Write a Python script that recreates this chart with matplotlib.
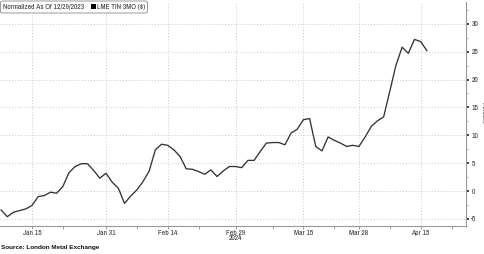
import matplotlib
matplotlib.use("Agg")
import matplotlib.pyplot as plt
import matplotlib.transforms as mtransforms
from matplotlib.patches import FancyBboxPatch, Rectangle
import pandas as pd

# ---- data ----
holidays = ["2024-03-29", "2024-04-01"]
dates = [d for d in pd.bdate_range("2024-01-08", "2024-04-16") if d.strftime("%Y-%m-%d") not in holidays]
values = [-3.4, -4.6, -3.8, -3.5, -3.2, -2.6, -1.0, -0.8, -0.2, -0.4,
          0.8, 3.3, 4.4, 4.9, 4.9, 3.7, 2.3, 3.2, 1.6, 0.5,
          -2.2, -0.9, 0.2, 1.7, 3.6, 7.4, 8.4, 8.2, 7.4, 6.2,
          4.0, 3.9, 3.5, 3.0, 3.8, 2.6, 3.6, 4.4, 4.4, 4.2,
          5.5, 5.5, 7.1, 8.6, 8.7, 8.7, 8.3, 10.4, 11.1, 12.8,
          13.0, 8.0, 7.2, 9.7, 9.1, 8.6, 8.0, 8.2, 8.0, 9.7,
          11.6, 12.6, 13.3, 17.9, 22.6, 25.8, 24.7, 27.2, 26.8, 25.2]
major_dates = ["2024-01-15", "2024-01-31", "2024-02-14", "2024-02-29",
               "2024-03-15", "2024-03-28", "2024-04-15"]
major_labels = ["Jan 15", "Jan 31", "Feb 14", "Feb 29", "Mar 15", "Mar 28", "Apr 15"]
minor_dates = ["2024-01-22", "2024-02-07", "2024-02-21", "2024-03-08",
               "2024-03-22", "2024-04-08", "2024-04-22"]
y_ticks = [-5, 0, 5, 10, 15, 20, 25, 30]
series_name = "LME TIN 3MO ($)"
legend_title = "Normalized As Of 12/29/2023"
source = "Source: London Metal Exchange"

FONT = ["Archivo Narrow", "DejaVu Sans"]
plt.rcParams["font.family"] = FONT
FS = 5.4

# trading-day index scale
all_days = [d for d in pd.bdate_range("2024-01-08", "2024-05-01") if d.strftime("%Y-%m-%d") not in holidays]
def idx(s):
    return all_days.index(pd.Timestamp(s))

x = [all_days.index(d) for d in dates]

fig = plt.figure(figsize=(4.85, 2.54), dpi=100)
ax = fig.add_axes([0.0, 0.1102, 0.9602, 0.8818])

ax.plot(x, values, color="#333333", lw=0.95, zorder=3)

ax.set_xlim(-0.18, 75.3)
ax.set_ylim(-6.27, 33.9)

grid_kw = dict(color="#c8c8c8", lw=0.7, ls=(0, (1, 2)))
for v in y_ticks:
    ax.axhline(v, zorder=1, **grid_kw)
for d in major_dates:
    ax.axvline(idx(d), zorder=1, **grid_kw)

ax.set_xticks([idx(d) for d in major_dates])
ax.set_xticklabels(major_labels)
ax.set_xticks([idx(d) for d in minor_dates], minor=True)
ax.tick_params(axis="x", which="major", length=2, width=0.6, color="#888888",
               labelsize=FS, labelcolor="#333333", pad=1)
ax.tick_params(axis="x", which="minor", length=2, width=0.6, color="#888888")

ax.yaxis.tick_right()
ax.set_yticks(y_ticks)
ax.set_yticklabels([str(v) for v in y_ticks])
ax.set_yticks([v + 2.5 for v in range(-5, 35, 5) if v + 2.5 < 33.9], minor=True)
ax.tick_params(axis="y", which="major", length=2.5, width=1.2, color="#222222",
               labelsize=FS, labelcolor="#333333", pad=1.5, direction="out")
ax.tick_params(axis="y", which="minor", length=1.5, width=0.5, color="#999999", direction="out")

for s in ["left", "top"]:
    ax.spines[s].set_visible(False)
for s in ["right", "bottom"]:
    ax.spines[s].set_color("#999999")
    ax.spines[s].set_linewidth(0.8)

# year label
trans = mtransforms.blended_transform_factory(ax.transData, fig.transFigure)
ax.text(idx("2024-02-29"), 1 - 238 / 254, "2024", transform=trans, ha="center", va="center",
        fontsize=FS, color="#333333")

# Percent label, partially cut at figure edge (as in the original)
fig.text(484 / 485, 1 - 113 / 254, "Percent", rotation=270, ha="center", va="center",
         fontsize=FS, color="#333333")

# legend box
box = FancyBboxPatch((0.5 / 485, 1 - 13 / 254), 147 / 485, 12 / 254,
                     boxstyle="round,pad=0,rounding_size=0.006", transform=fig.transFigure,
                     facecolor="white", edgecolor="#999999", lw=0.7, zorder=5)
fig.patches.append(box)
fig.text(3 / 485, 1 - 6.5 / 254, legend_title, ha="left", va="center", fontsize=FS,
         color="#333333", zorder=6)
fig.patches.append(Rectangle((91 / 485, 1 - 9 / 254), 5 / 485, 5 / 254, transform=fig.transFigure,
                             facecolor="black", edgecolor="none", zorder=6))
fig.text(97.5 / 485, 1 - 6.5 / 254, series_name, ha="left", va="center", fontsize=FS,
         color="#333333", zorder=6)

fig.text(1 / 485, 1 - 248 / 254, source, ha="left", va="center", fontsize=4.6,
         family=["Liberation Sans", "DejaVu Sans"], fontweight="bold", color="#111111")

fig.savefig("out.png", dpi=100)
